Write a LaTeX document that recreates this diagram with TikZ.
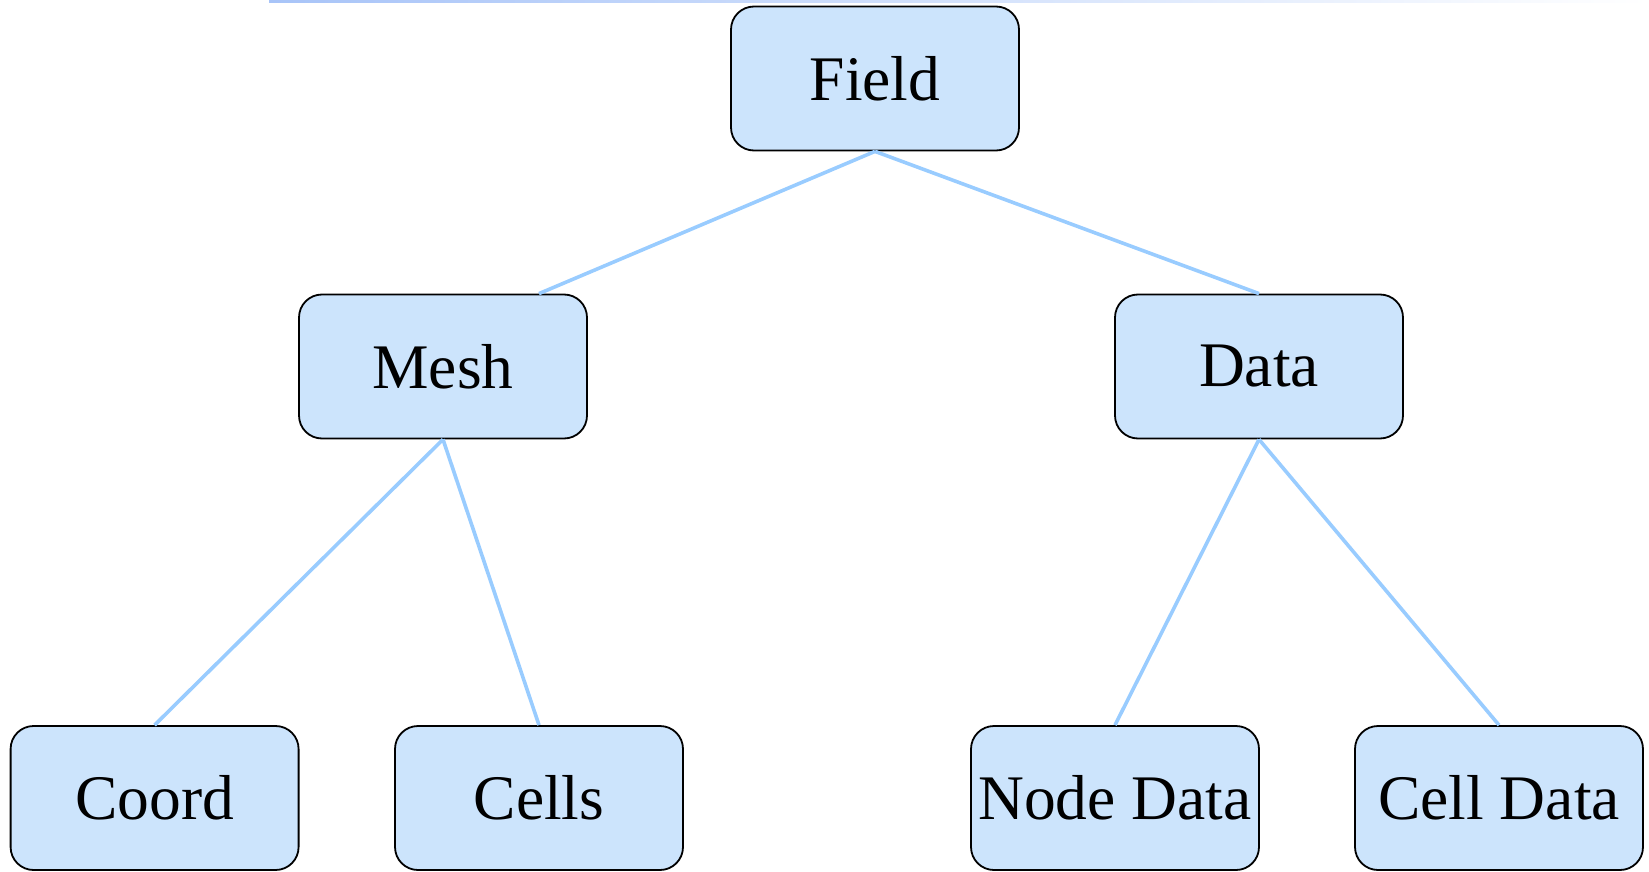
\documentclass[tikz,border=0pt]{standalone}
\usepackage{fontspec}
\setmainfont{Liberation Serif}
\usepackage{tikz}
\definecolor{boxfill}{RGB}{204,228,252}
\definecolor{linkblue}{RGB}{153,204,255}
\definecolor{topblue}{RGB}{168,196,248}

\begin{document}
\begin{tikzpicture}[x=0.5pt,y=-0.5pt,
	box/.style = {draw=black,line width=0.9pt,fill=boxfill,rounded corners=11.5pt,minimum width=144pt,minimum height=72pt,inner sep=0pt,font=\fontsize{31.75}{38}\selectfont},
	link/.style = {draw=linkblue,line width=1.8pt}
	]
	\useasboundingbox (0,0) rectangle (1649,872);
	%LINEA IN ALTO
	\shade[left color=topblue,right color=white] (269,0) rectangle (1649,2.5);
	%NODI
	\node[box] (@field) at (875,78.5) {Field};
	\node[box] (@mesh) at (443,366.5) {Mesh};
	\node[box] (@data) at (1259,366.5) {Data};
	\node[box] (@coord) at (154.6,798) {Coord};
	\node[box] (@cells) at (539,798) {Cells};
	\node[box] (@nodedata) at (1115,798) {Node Data};
	\node[box] (@celldata) at (1499,798) {Cell Data};
	\coordinate (@meshin) at (@mesh.north -| @cells.north);
	%COLLEGAMENTI
	\draw[link] (@field.south) -- (@meshin);
	\draw[link] (@field.south) -- (@data.north);
	\draw[link] (@mesh.south) -- (@coord.north);
	\draw[link] (@mesh.south) -- (@cells.north);
	\draw[link] (@data.south) -- (@nodedata.north);
	\draw[link] (@data.south) -- (@celldata.north);
\end{tikzpicture}
\end{document}
